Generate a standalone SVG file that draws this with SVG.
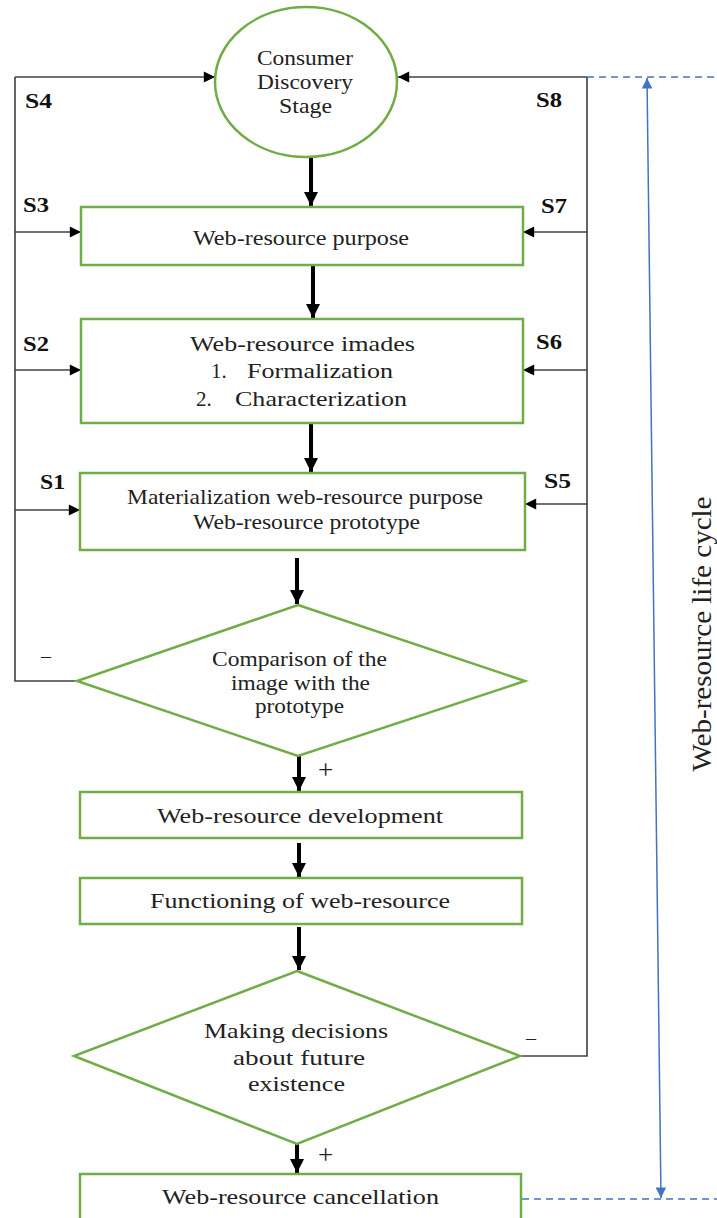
<svg xmlns="http://www.w3.org/2000/svg" width="717" height="1218" viewBox="0 0 717 1218">
  <style>
    .node { fill: #ffffff; stroke: #70ad47; stroke-width: 2.5; }
    .txt { font-family: "Liberation Serif", "Times New Roman", serif; font-size: 21px; fill: #222; text-anchor: middle; }
    .lst { font-family: "Liberation Serif", "Times New Roman", serif; font-size: 21px; fill: #222; }
    .lbl { font-family: "Liberation Serif", "Times New Roman", serif; font-size: 20px; font-weight: bold; fill: #111; }
    .sign { font-family: "Liberation Serif", "Times New Roman", serif; font-size: 20px; fill: #222; }
    .plus { font-family: "Liberation Serif", "Times New Roman", serif; font-size: 27px; fill: #222; }
    .side { font-family: "Liberation Serif", "Times New Roman", serif; font-size: 27px; fill: #222; text-anchor: middle; }
    .flow { stroke: #000; stroke-width: 4; fill: none; marker-end: url(#big); }
    .loop { stroke: #404040; stroke-width: 1.6; fill: none; }
    .feed { stroke: #404040; stroke-width: 1.6; fill: none; marker-end: url(#small); }
    .dash { stroke: #4472c4; stroke-width: 1.3; stroke-dasharray: 7 5; fill: none; }
    .span { stroke: #4472c4; stroke-width: 1.5; fill: none; marker-start: url(#blue); marker-end: url(#blue); }
  </style>
  <defs>
    <marker id="big" viewBox="0 0 10 10" refX="10" refY="5" markerWidth="3.6" markerHeight="3.6" orient="auto" markerUnits="strokeWidth">
      <path d="M0,0 L10,5 L0,10 z" fill="#000"/>
    </marker>
    <marker id="small" viewBox="0 0 10 10" refX="10" refY="5" markerWidth="8" markerHeight="7" orient="auto" markerUnits="strokeWidth">
      <path d="M0,0 L10,5 L0,10 z" fill="#000"/>
    </marker>
    <marker id="blue" viewBox="0 0 10 10" refX="10" refY="5" markerWidth="8" markerHeight="7" orient="auto-start-reverse" markerUnits="strokeWidth">
      <path d="M0,0 L10,5 L0,10 z" fill="#4472c4"/>
    </marker>
  </defs>

  <!-- connectors -->
  <g id="connectors">
    <!-- main downward flow -->
    <line class="flow" x1="311" y1="157" x2="311" y2="206"/>
    <line class="flow" x1="313" y1="265" x2="313" y2="318"/>
    <line class="flow" x1="311" y1="423" x2="311" y2="472"/>
    <line class="flow" x1="297" y1="558" x2="297" y2="604"/>
    <line class="flow" x1="299" y1="756" x2="299" y2="791"/>
    <line class="flow" x1="299" y1="843" x2="299" y2="877"/>
    <line class="flow" x1="299" y1="927" x2="299" y2="970"/>
    <line class="flow" x1="297" y1="1144" x2="297" y2="1173"/>

    <!-- left return loop (negative comparison) -->
    <polyline class="loop" points="77,681 15,681 15,77"/>
    <line class="feed" x1="15" y1="77" x2="215" y2="77"/>
    <line class="feed" x1="15" y1="232" x2="81" y2="232"/>
    <line class="feed" x1="15" y1="370" x2="81" y2="370"/>
    <line class="feed" x1="15" y1="510" x2="80" y2="510"/>

    <!-- right return loop (negative decision) -->
    <polyline class="loop" points="520,1056 587,1056 587,77"/>
    <line class="feed" x1="587" y1="77" x2="398" y2="77"/>
    <line class="feed" x1="587" y1="232" x2="523" y2="232"/>
    <line class="feed" x1="587" y1="370" x2="523" y2="370"/>
    <line class="feed" x1="587" y1="504" x2="525" y2="504"/>

    <!-- life cycle span -->
    <line class="dash" x1="587" y1="77" x2="717" y2="77"/>
    <line class="dash" x1="522" y1="1199" x2="717" y2="1199"/>
    <line class="span" x1="647" y1="78" x2="661" y2="1198"/>
  </g>

  <!-- nodes -->
  <g id="discovery">
    <ellipse class="node" cx="306" cy="82" rx="91" ry="75"/>
    <text class="txt" x="305" y="65" textLength="96" lengthAdjust="spacingAndGlyphs">Consumer</text>
    <text class="txt" x="305" y="89" textLength="96" lengthAdjust="spacingAndGlyphs">Discovery</text>
    <text class="txt" x="305.5" y="113" textLength="53" lengthAdjust="spacingAndGlyphs">Stage</text>
  </g>
  <g id="purpose">
    <rect class="node" x="81" y="207" width="442" height="58"/>
    <text class="txt" x="301" y="245" textLength="216" lengthAdjust="spacingAndGlyphs">Web-resource purpose</text>
  </g>
  <g id="images">
    <rect class="node" x="81" y="319" width="442" height="104"/>
    <text class="txt" x="302.5" y="351" textLength="225" lengthAdjust="spacingAndGlyphs">Web-resource imades</text>
    <text class="lst" x="211" y="378">1.</text>
    <text class="lst" x="247" y="378" textLength="146" lengthAdjust="spacingAndGlyphs">Formalization</text>
    <text class="lst" x="196" y="406">2.</text>
    <text class="lst" x="235" y="406" textLength="172" lengthAdjust="spacingAndGlyphs">Characterization</text>
  </g>
  <g id="materialization">
    <rect class="node" x="80" y="473" width="445" height="77"/>
    <text class="txt" x="305" y="504" textLength="356" lengthAdjust="spacingAndGlyphs">Materialization web-resource purpose</text>
    <text class="txt" x="306.5" y="529" textLength="227" lengthAdjust="spacingAndGlyphs">Web-resource prototype</text>
  </g>
  <g id="comparison">
    <polygon class="node" points="298,605 525,681 298,756 77,681"/>
    <text class="txt" x="299.5" y="666" textLength="175" lengthAdjust="spacingAndGlyphs">Comparison of the</text>
    <text class="txt" x="300.5" y="690" textLength="139" lengthAdjust="spacingAndGlyphs">image with the</text>
    <text class="txt" x="299.5" y="713" textLength="89" lengthAdjust="spacingAndGlyphs">prototype</text>
  </g>
  <g id="development">
    <rect class="node" x="80" y="792" width="442" height="46"/>
    <text class="txt" x="300" y="823" textLength="286" lengthAdjust="spacingAndGlyphs">Web-resource development</text>
  </g>
  <g id="functioning">
    <rect class="node" x="80" y="878" width="442" height="46"/>
    <text class="txt" x="300" y="908" textLength="300" lengthAdjust="spacingAndGlyphs">Functioning of web-resource</text>
  </g>
  <g id="decision">
    <polygon class="node" points="297,971 520,1056 297,1144 74,1056"/>
    <text class="txt" x="296" y="1038" textLength="184" lengthAdjust="spacingAndGlyphs">Making decisions</text>
    <text class="txt" x="299" y="1065" textLength="132" lengthAdjust="spacingAndGlyphs">about future</text>
    <text class="txt" x="296.5" y="1091" textLength="97" lengthAdjust="spacingAndGlyphs">existence</text>
  </g>
  <g id="cancellation">
    <rect class="node" x="80" y="1174" width="441" height="60"/>
    <text class="txt" x="300.5" y="1204" textLength="277" lengthAdjust="spacingAndGlyphs">Web-resource cancellation</text>
  </g>

  <!-- loop labels -->
  <g id="labels">
    <text class="lbl" x="25" y="108" textLength="27" lengthAdjust="spacingAndGlyphs">S4</text>
    <text class="lbl" x="23" y="212" textLength="26" lengthAdjust="spacingAndGlyphs">S3</text>
    <text class="lbl" x="23" y="351" textLength="26" lengthAdjust="spacingAndGlyphs">S2</text>
    <text class="lbl" x="40" y="489" textLength="25" lengthAdjust="spacingAndGlyphs">S1</text>
    <text class="lbl" x="536" y="107" textLength="26" lengthAdjust="spacingAndGlyphs">S8</text>
    <text class="lbl" x="541" y="213" textLength="26" lengthAdjust="spacingAndGlyphs">S7</text>
    <text class="lbl" x="536" y="349" textLength="26" lengthAdjust="spacingAndGlyphs">S6</text>
    <text class="lbl" x="544" y="488" textLength="27" lengthAdjust="spacingAndGlyphs">S5</text>
    <text class="sign" x="41" y="663">–</text>
    <text class="plus" x="318" y="779">+</text>
    <text class="sign" x="526" y="1045">–</text>
    <text class="plus" x="318" y="1164">+</text>
    <text class="side" transform="translate(711,634) rotate(-90)" textLength="275" lengthAdjust="spacingAndGlyphs">Web-resource life cycle</text>
  </g>
</svg>
